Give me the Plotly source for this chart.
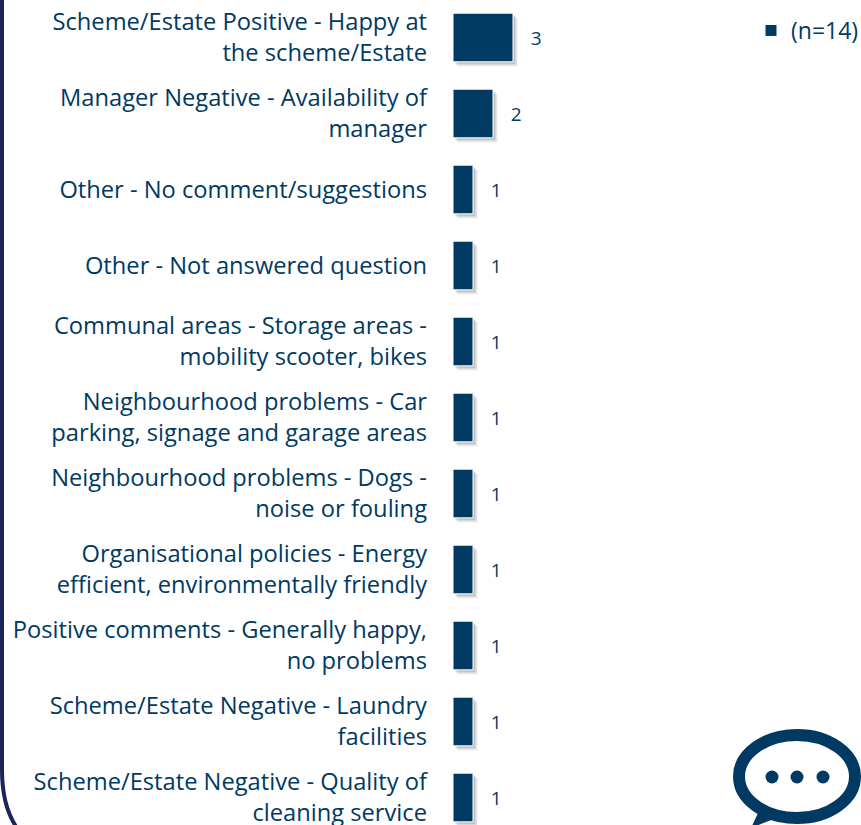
import plotly.graph_objects as go

categories = [
    "Scheme/Estate Positive - Happy at<br>the scheme/Estate",
    "Manager Negative - Availability of<br>manager",
    "Other - No comment/suggestions",
    "Other - Not answered question",
    "Communal areas - Storage areas -<br>mobility scooter, bikes",
    "Neighbourhood problems - Car<br>parking, signage and garage areas",
    "Neighbourhood problems - Dogs -<br>noise or fouling",
    "Organisational policies - Energy<br>efficient, environmentally friendly",
    "Positive comments - Generally happy,<br>no problems",
    "Scheme/Estate Negative - Laundry<br>facilities",
    "Scheme/Estate Negative - Quality of<br>cleaning service",
]
values = [3, 2, 1, 1, 1, 1, 1, 1, 1, 1, 1]
series_name = "(n=14)"

W, H = 861, 825
NAVY = "#003a63"
BORDER = "#1b2559"
FONT = "Open Sans"
ROW = 76.0
Y0 = 37.5
X0 = 453.0
UNIT = 20.0
BAR_W = 0.64

fig = go.Figure()

for dx, dy, op in [(5, 5, 0.06), (4, 4, 0.09), (3, 3, 0.12), (2, 2, 0.15)]:
    fig.add_trace(go.Bar(
        y=categories, x=values, orientation="h",
        base=dx / UNIT, offset=-BAR_W / 2 + dy / ROW, width=BAR_W,
        marker=dict(color=f"rgba(90,90,90,{op})", line_width=0),
        showlegend=False, hoverinfo="skip",
    ))

fig.add_trace(go.Bar(
    y=categories, x=values, orientation="h", name=series_name,
    width=BAR_W, offset=-BAR_W / 2,
    marker=dict(color=NAVY, line=dict(color="white", width=1)),
    texttemplate="\u00a0\u00a0\u00a0%{x}", textposition="outside", cliponaxis=False,
    textfont=dict(size=19, color=NAVY, family=FONT),
))

fig.update_layout(
    width=W, height=H,
    margin=dict(l=0, r=0, t=0, b=0, autoexpand=False),
    paper_bgcolor="white", plot_bgcolor="white",
    barmode="overlay",
    font=dict(family=FONT, color=NAVY),
    showlegend=True,
    legend=dict(x=757.5 / W, y=1 - 30.5 / H, xanchor="left", yanchor="middle",
                font=dict(size=23, color=NAVY), bgcolor="rgba(0,0,0,0)",
                itemwidth=30, indentation=-6.5),
    xaxis=dict(domain=[X0 / W, 1], range=[0, (W - X0) / UNIT],
               visible=False, showgrid=False, zeroline=False),
    yaxis=dict(range=[(H - Y0) / ROW, -Y0 / ROW], showgrid=False, zeroline=False,
               showline=False, ticks="", tickfont=dict(size=23.7, color=NAVY, family=FONT),
               ticklabelstandoff=25, automargin=False, type="category",
               categoryorder="array", categoryarray=categories),
    shapes=[
        dict(type="path", xref="paper", yref="paper",
             path=f"M {2/W} 1 L {2/W} {1-770/H} C {2/W} {1-795/H} {8/W} {1-815/H} {17/W} {1-828/H}",
             line=dict(color=BORDER, width=4)),
        dict(type="circle", xref="paper", yref="paper",
             x0=739/W, x1=855/W, y0=1-818/H, y1=1-735/H,
             line=dict(color=NAVY, width=12), fillcolor="white"),
        dict(type="path", xref="paper", yref="paper",
             path=f"M {759/W} {1-812/H} L {752/W} {1-827/H} L {775/W} {1-818/H} Z",
             fillcolor=NAVY, line=dict(color=NAVY, width=1)),
    ] + [
        dict(type="circle", xref="paper", yref="paper",
             x0=(c - 6.5)/W, x1=(c + 6.5)/W, y0=1-783.5/H, y1=1-770.5/H,
             fillcolor=NAVY, line_width=0)
        for c in (772, 797, 823)
    ],
)

fig.write_html("out.html", config=dict(displayModeBar=False),
               post_script="document.body.style.margin='0';")
